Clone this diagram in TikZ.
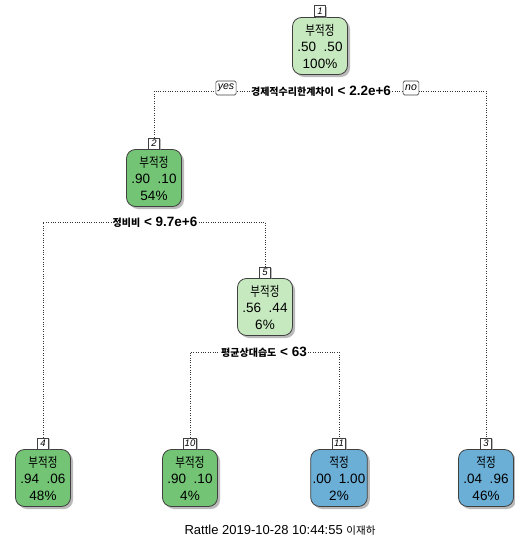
\documentclass[tikz,border=0pt]{standalone}
\usepackage{fontspec}
\setmainfont{Liberation Sans}
\newfontfamily\kr{Noto Sans CJK KR}
\newfontfamily\krn[FakeStretch=0.78]{Noto Sans CJK KR}
\usepackage{xcolor}
\usetikzlibrary{positioning, shadows, backgrounds}

\definecolor{palegreen}{HTML}{C7E9C0}
\definecolor{midgreen}{HTML}{74C476}
\definecolor{midblue}{HTML}{6BAED6}

\tikzset{
  tnode/.style={draw=black!75, line width=0.8pt, rounded corners=9pt,
    minimum width=55pt, minimum height=57pt, inner sep=2pt, align=center,
    font=\fontsize{13.5}{16.5}\selectfont,
    drop shadow={shadow xshift=2.5pt, shadow yshift=-2.5pt, fill=black!45, opacity=0.6}},
  pale/.style={tnode, fill=palegreen},
  green/.style={tnode, fill=midgreen},
  blue/.style={tnode, fill=midblue},
  numbox/.style={draw=black!75, line width=0.6pt, fill=white, inner sep=1.5pt,
    minimum width=11pt, minimum height=11pt, font=\fontsize{9.5}{10}\itshape,
    drop shadow={shadow xshift=1.5pt, shadow yshift=-1.5pt, fill=black!45, opacity=0.6}},
  splitlbl/.style={fill=white, inner sep=1pt, font=\fontsize{13.5}{15}\bfseries},
  yesno/.style={draw=black!75, line width=0.6pt, fill=white, rounded corners=1.5pt,
    inner sep=2pt, minimum height=14pt, font=\fontsize{10.5}{11}\itshape},
  branch/.style={draw=black!80, line width=0.7pt, dash pattern=on 0.8pt off 1.6pt}
}

\begin{document}
\begin{tikzpicture}[x=1pt, y=-1pt]
  \useasboundingbox (0,0) rectangle (514,543);
  % tree nodes
  \node[pale] (n1) at (320,46) {{\krn 부적정}\\.50\ \ .50\\100\%};
  \node[green] (n2) at (154,178) {{\krn 부적정}\\.90\ \ .10\\54\%};
  \node[pale] (n5) at (265,307) {{\krn 부적정}\\.56\ \ .44\\6\%};
  \node[green] (n4) at (43,478) {{\krn 부적정}\\.94\ \ .06\\48\%};
  \node[green] (n10) at (190,478) {{\krn 부적정}\\.90\ \ .10\\4\%};
  \node[blue] (n11) at (339,478) {{\krn 적정}\\.00\ \ 1.00\\2\%};
  \node[blue] (n3) at (486,478) {{\krn 적정}\\.04\ \ .96\\46\%};
  % node numbers
  \foreach \k in {1,2,5,4,10,11,3} {
    \node[numbox, above=0pt of n\k] (k\k) {\k};
  }
  % split labels
  \node[splitlbl] (s1) at (321,91) {{\kr\fontsize{10}{11}\selectfont 경제적수리한계차이} < 2.2e+6};
  \node[yesno] (yes) at (226,88) {yes};
  \node[yesno] (no) at (411,88) {no};
  \node[splitlbl] (s2) at (155,222) {{\kr\fontsize{10}{11}\selectfont 정비비} < 9.7e+6};
  \node[splitlbl] (s5) at (264,352) {{\kr\fontsize{10}{11}\selectfont 평균상대습도} < 63};
  % connectors
  \begin{scope}[on background layer]
    \draw[branch] (k2.north) |- (s1) -| (k3.north);
    \draw[branch] (k4.north) |- (s2) -| (k5.north);
    \draw[branch] (k10.north) |- (s5) -| (k11.north);
  \end{scope}
  % footer
  \node[font=\fontsize{13}{15}\selectfont] (foot) at (280,530) {Rattle 2019-10-28 10:44:55 {\kr\fontsize{10.5}{12}\selectfont 이재하}};
\end{tikzpicture}
\end{document}
